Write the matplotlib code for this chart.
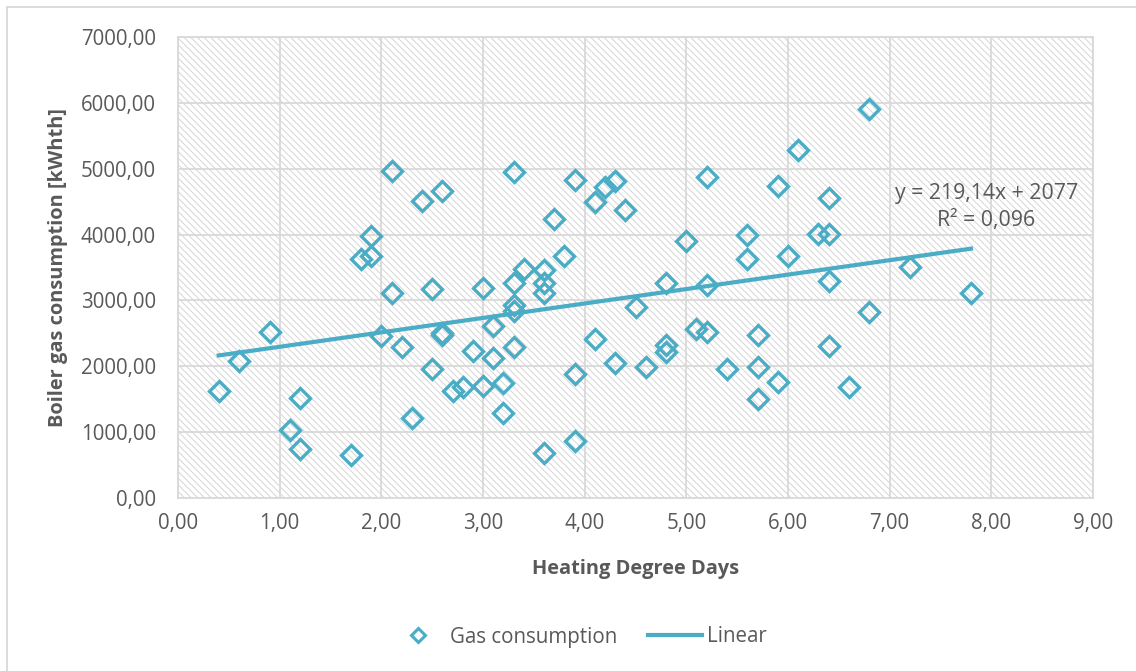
import matplotlib.pyplot as plt
import numpy as np
from matplotlib.ticker import FuncFormatter, MultipleLocator
from matplotlib.patches import Rectangle
from matplotlib.lines import Line2D

# heating degree days vs boiler gas consumption
hdd = [0.4, 0.6, 0.9, 1.1, 1.2, 1.2, 1.7, 1.8, 1.9, 1.9,
       2.0, 2.1, 2.1, 2.2, 2.3, 2.4, 2.5, 2.5, 2.6, 2.6,
       2.6, 2.7, 2.8, 2.9, 3.0, 3.0, 3.1, 3.1, 3.2, 3.2,
       3.3, 3.3, 3.3, 3.3, 3.3, 3.4, 3.6, 3.6, 3.6, 3.6,
       3.7, 3.8, 3.9, 3.9, 3.9, 4.1, 4.1, 4.2, 4.3, 4.3,
       4.4, 4.5, 4.6, 4.8, 4.8, 4.8, 5.0, 5.1, 5.2, 5.2,
       5.2, 5.4, 5.6, 5.6, 5.7, 5.7, 5.7, 5.9, 5.9, 6.0,
       6.1, 6.3, 6.4, 6.4, 6.4, 6.4, 6.6, 6.8, 6.8, 7.2,
       7.8]
gas = [1620, 2080, 2525, 1027, 1523, 749, 658, 3624, 3978, 3670,
       2460, 4970, 3108, 2297, 1220, 4514, 3169, 1964, 4657, 2505,
       2475, 1620, 1690, 2230, 3193, 1700, 2605, 2121, 1751, 1296,
       4955, 3265, 2930, 2840, 2297, 3475, 3455, 3260, 3108, 683,
       4232, 3680, 4828, 1883, 870, 4500, 2414, 4727, 4813, 2055,
       4373, 2895, 1984, 3260, 2323, 2222, 3902, 2561, 4879, 3240,
       2525, 1954, 3993, 3624, 2475, 1984, 1498, 4742, 1757, 3680,
       5284, 4004, 4550, 4004, 3295, 2308, 1690, 5907, 2829, 3512,
       3108]

# linear trend line as reported on the chart
slope = 219.14
intercept = 2077
r2 = 0.096

blue = '#4bacc6'
grey_txt = '#595959'
grid_c = '#d9d9d9'

plt.rcParams['font.family'] = ['Open Sans', 'DejaVu Sans']
plt.rcParams['hatch.color'] = '#d6d6d6'
plt.rcParams['hatch.linewidth'] = 0.7

fig = plt.figure(figsize=(11.36, 6.71), dpi=100)
ax = fig.add_axes([178/1136, 1-498/671, (1093-178)/1136, (498-37)/671])

# hatched plot background
ax.patch.set_facecolor('white')
ax.patch.set_hatch('\\\\\\\\\\')
ax.patch.set_edgecolor('#d6d6d6')

ax.set_xlim(0, 9)
ax.set_ylim(0, 7000)
ax.xaxis.set_major_locator(MultipleLocator(1))
ax.yaxis.set_major_locator(MultipleLocator(1000))
fmt = FuncFormatter(lambda v, p: f"{v:.2f}".replace('.', ','))
ax.xaxis.set_major_formatter(fmt)
ax.yaxis.set_major_formatter(fmt)
ax.grid(True, color=grid_c, linewidth=1.3)
ax.set_axisbelow(True)
for s in ax.spines.values():
    s.set_color(grid_c)
    s.set_linewidth(1.3)
ax.tick_params(length=0, colors=grey_txt, labelsize=14.8)
ax.tick_params(axis='x', pad=11)
ax.tick_params(axis='y', pad=16)

ax.plot(hdd, gas, linestyle='none', marker='D', markersize=10,
        markerfacecolor='none', markeredgecolor=blue, markeredgewidth=2.4,
        zorder=3)

xs = np.array([min(hdd), max(hdd)])
ax.plot(xs, slope*xs + intercept, color=blue, linewidth=3, zorder=4)

eq = f"y = {slope:.2f}x + {intercept}".replace('.', ',') + "\n" + \
     f"R² = {r2:.3f}".replace('.', ',')
ax.text(7.95, 4420, eq, ha='center', va='center', fontsize=15.3,
        color=grey_txt, linespacing=1.4, zorder=5)

ax.set_xlabel("Heating Degree Days", fontsize=14.4, fontweight='bold',
              color=grey_txt, labelpad=18)
ax.set_ylabel("Boiler gas consumption [kWhth]", fontsize=14.4,
              fontweight='bold', color=grey_txt, labelpad=9)

handles = [Line2D([], [], linestyle='none', marker='D', markersize=7.5,
                  markerfacecolor='none', markeredgecolor=blue,
                  markeredgewidth=2.2),
           Line2D([], [], color=blue, linewidth=3)]
fig.legend(handles, ["Gas consumption", "Linear"], loc='center',
           bbox_to_anchor=(579/1136, 1-637/671), ncol=2, frameon=False,
           fontsize=14.8, labelcolor=grey_txt, handlelength=2.6,
           handletextpad=0.25, columnspacing=1.5)

# outer chart frame
fig.patches.append(Rectangle((7/1136, -0.02), 1.02, 1-7/671+0.02,
                             transform=fig.transFigure, fill=False,
                             edgecolor=grid_c, linewidth=1.3))

fig.savefig('out.png', dpi=100)
